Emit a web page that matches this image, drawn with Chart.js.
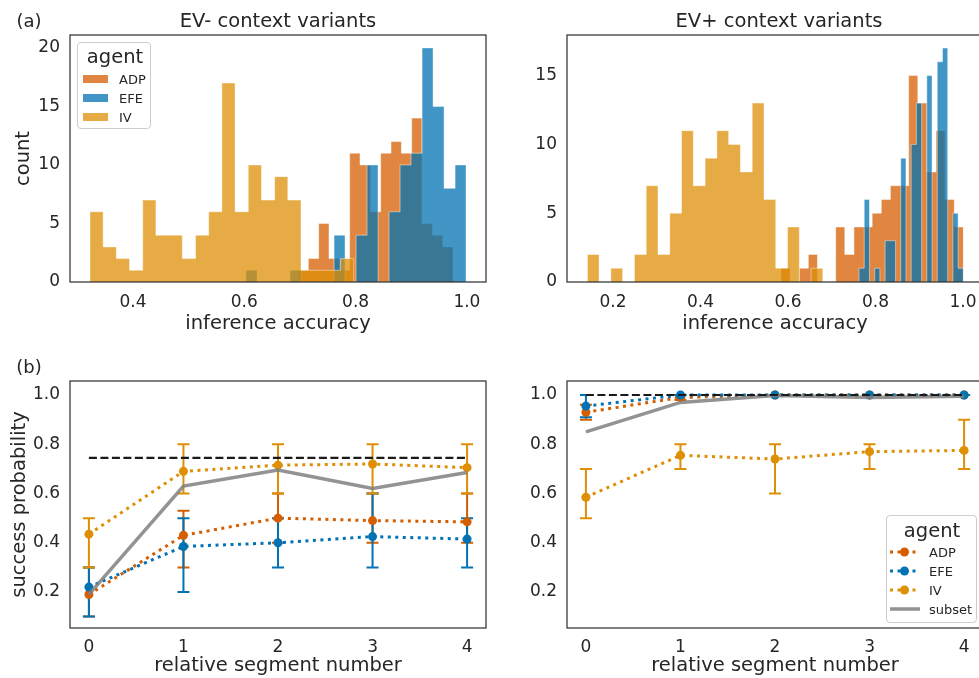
<!DOCTYPE html>
<html><head><meta charset="utf-8">
<script src="https://cdn.jsdelivr.net/npm/chart.js@4.4.1/dist/chart.umd.min.js"></script>
<style>
html,body{margin:0;padding:0;background:#fff;overflow:hidden;width:979px;height:678px;}
body{position:relative;font-family:"DejaVu Sans",sans-serif;color:#262626;}
canvas{position:absolute;}
.t{position:absolute;white-space:nowrap;line-height:1;transform:translate(-50%,-50%);}
.lg{position:absolute;border:1px solid #cccccc;border-radius:4px;background:rgba(255,255,255,0.8);box-sizing:border-box;}
.row{position:absolute;font-size:13px;line-height:1;white-space:nowrap;}
.sw{position:absolute;}
</style></head>
<body>
<canvas id="cA" width="500" height="345" style="left:0;top:0"></canvas>
<canvas id="cB" width="490" height="345" style="left:500px;top:0"></canvas>
<canvas id="cC" width="500" height="333" style="left:0;top:345px"></canvas>
<canvas id="cD" width="490" height="333" style="left:500px;top:345px"></canvas>

<div class="t" style="left:29px;top:21px;font-size:18px">(a)</div>
<div class="t" style="left:29px;top:367px;font-size:18px">(b)</div>
<div class="t" style="left:278px;top:21px;font-size:19.5px">EV- context variants</div>
<div class="t" style="left:779px;top:21px;font-size:19.5px">EV+ context variants</div>

<div class="lg" style="left:77px;top:42px;width:74px;height:87px">
  <div class="t" style="left:37px;top:14px;font-size:19.5px">agent</div>
  <div class="sw" style="left:5px;top:32px;width:25px;height:8px;background:rgba(213,94,0,0.75)"></div>
  <div class="row" style="left:41px;top:30px">ADP</div>
  <div class="sw" style="left:5px;top:51px;width:25px;height:8px;background:rgba(1,115,178,0.75)"></div>
  <div class="row" style="left:41px;top:49px">EFE</div>
  <div class="sw" style="left:5px;top:70px;width:25px;height:8px;background:rgba(222,143,5,0.75)"></div>
  <div class="row" style="left:41px;top:68px">IV</div>
</div>

<div class="lg" style="left:886px;top:515px;width:91px;height:108px">
  <div class="t" style="left:45px;top:15px;font-size:19.5px">agent</div>
  <svg class="sw" style="left:3px;top:31px" width="30" height="10"><line x1="0" y1="5" x2="30" y2="5" stroke="#d55e00" stroke-width="3" stroke-dasharray="3 4.5"/><circle cx="14.5" cy="5" r="4.5" fill="#d55e00"/></svg>
  <div class="row" style="left:42px;top:30px">ADP</div>
  <svg class="sw" style="left:3px;top:50px" width="30" height="10"><line x1="0" y1="5" x2="30" y2="5" stroke="#0173b2" stroke-width="3" stroke-dasharray="3 4.5"/><circle cx="14.5" cy="5" r="4.5" fill="#0173b2"/></svg>
  <div class="row" style="left:42px;top:49px">EFE</div>
  <svg class="sw" style="left:3px;top:69px" width="30" height="10"><line x1="0" y1="5" x2="30" y2="5" stroke="#de8f05" stroke-width="3" stroke-dasharray="3 4.5"/><circle cx="14.5" cy="5" r="4.5" fill="#de8f05"/></svg>
  <div class="row" style="left:42px;top:68px">IV</div>
  <svg class="sw" style="left:3px;top:88px" width="30" height="10"><line x1="0" y1="5" x2="30" y2="5" stroke="rgba(128,128,128,0.85)" stroke-width="3.5"/></svg>
  <div class="row" style="left:42px;top:87px">subset</div>
</div>

<script>
// ---------- DATA ----------
// (a) histograms: bin start, bin width, counts per bin
const evMinusADPStart = 0.6965, evMinusADPWidth = 0.01857;
const evMinusADPCounts = [1,2,5,2,1,11,10,6,11,12,11,14,5,4,3];
const evMinusEFEStart = 0.6031, evMinusEFEWidth = 0.01977;
const evMinusEFECounts = [1,0,0,0,1,0,0,0,4,0,4,10,0,6,10,11,20,15,8,10];
const evMinusIVStart = 0.3227, evMinusIVWidth = 0.0237;
const evMinusIVCounts = [6,3,2,1,7,4,4,2,4,6,17,6,10,7,9,7,1,1,1,2];

const evPlusADPStart = 0.5839, evPlusADPWidth = 0.02085;
const evPlusADPCounts = [1,0,1,2,0,0,4,2,4,4,5,6,7,7,15,13,8,11,6,4];
const evPlusEFEStart = 0.7623, evPlusEFEWidth = 0.011924;
const evPlusEFECounts = [1,6,0,1,0,3,3,0,9,0,10,13,0,15,0,16,17,0,5,1];
const evPlusIVStart = 0.1413, evPlusIVWidth = 0.02692;
const evPlusIVCounts = [2,0,1,0,2,7,2,5,11,7,9,11,10,8,13,6,1,4,0,1];

const histTicksLeft = [0.4, 0.6, 0.8, 1.0];
const histTicksRight = [0.2, 0.4, 0.6, 0.8, 1.0];
const countTicksLeft = [0, 5, 10, 15, 20];
const countTicksRight = [0, 5, 10, 15];

// (b) success probability per relative segment
const segments = [0, 1, 2, 3, 4];
const probTicks = [0.2, 0.4, 0.6, 0.8, 1.0];

const evMinusADPMean = [0.19, 0.43, 0.50, 0.49, 0.485];
const evMinusADPLo   = [0.10, 0.30, 0.40, 0.40, 0.40];
const evMinusADPHi   = [0.30, 0.53, 0.60, 0.60, 0.60];
const evMinusEFEMean = [0.22, 0.385, 0.40, 0.425, 0.415];
const evMinusEFELo   = [0.10, 0.20, 0.30, 0.30, 0.30];
const evMinusEFEHi   = [0.30, 0.50, 0.50, 0.60, 0.50];
const evMinusIVMean  = [0.435, 0.69, 0.715, 0.72, 0.705];
const evMinusIVLo    = [0.30, 0.60, 0.60, 0.60, 0.60];
const evMinusIVHi    = [0.50, 0.80, 0.80, 0.80, 0.80];
const evMinusSubset  = [0.19, 0.63, 0.695, 0.62, 0.685];
const evMinusRef = 0.745;

const evPlusADPMean = [0.93, 0.99, 1.0, 1.0, 1.0];
const evPlusADPLo   = [0.90, 0.98, 1.0, 1.0, 1.0];
const evPlusADPHi   = [0.96, 1.0, 1.0, 1.0, 1.0];
const evPlusEFEMean = [0.955, 1.0, 1.0, 1.0, 1.0];
const evPlusEFELo   = [0.91, 1.0, 1.0, 1.0, 1.0];
const evPlusEFEHi   = [1.0, 1.0, 1.0, 1.0, 1.0];
const evPlusIVMean  = [0.585, 0.755, 0.74, 0.77, 0.775];
const evPlusIVLo    = [0.50, 0.70, 0.60, 0.70, 0.70];
const evPlusIVHi    = [0.70, 0.80, 0.80, 0.80, 0.90];
const evPlusSubset  = [0.85, 0.97, 0.998, 0.99, 0.995];
const evPlusRef = 1.0;

// ---------- STYLE ----------
const C_ADP = '#d55e00', C_EFE = '#0173b2', C_IV = '#de8f05';
const A_ADP = 'rgba(213,94,0,0.75)', A_EFE = 'rgba(1,115,178,0.75)', A_IV = 'rgba(222,143,5,0.75)';
const TXT = '#262626';
Chart.defaults.font.family = "'DejaVu Sans', sans-serif";
Chart.defaults.color = TXT;
Chart.defaults.animation = false;

function histPoints(start, width, counts) {
  const pts = [{x: start, y: 0}];
  counts.forEach((c, i) => pts.push({x: start + i * width, y: c}));
  pts.push({x: start + counts.length * width, y: 0});
  return pts;
}
function histDS(label, start, width, counts, color, order) {
  return {label, data: histPoints(start, width, counts), stepped: 'before', fill: 'origin',
    backgroundColor: color, borderColor: 'rgba(255,255,255,0.55)', borderWidth: 0.8,
    pointRadius: 0, pointHoverRadius: 0, order};
}
function agentDS(label, xs, mean, lo, hi, color, order) {
  return {label, data: xs.map((x, i) => ({x, y: mean[i]})), errLo: lo, errHi: hi,
    borderColor: color, backgroundColor: color, borderWidth: 3, borderDash: [3, 4.5],
    borderCapStyle: 'butt', pointRadius: 4.5, pointBackgroundColor: color, pointBorderWidth: 0,
    pointHoverRadius: 0, order};
}

const framePlugin = {
  id: 'frame',
  afterDraw(chart) {
    const {ctx, chartArea: a} = chart;
    ctx.save(); ctx.strokeStyle = '#333333'; ctx.lineWidth = 1.25;
    ctx.strokeRect(a.left, a.top, a.right - a.left, a.bottom - a.top); ctx.restore();
  }
};
const errPlugin = {
  id: 'errbars',
  beforeDatasetsDraw(chart) {
    const {ctx} = chart, xs = chart.scales.x, ys = chart.scales.y;
    chart.data.datasets.slice().reverse().forEach(ds => {
      if (!ds.errLo) return;
      ctx.save(); ctx.strokeStyle = ds.borderColor; ctx.lineWidth = 2; ctx.setLineDash([]);
      ds.data.forEach((p, i) => {
        const x = xs.getPixelForValue(p.x), y1 = ys.getPixelForValue(ds.errLo[i]), y2 = ys.getPixelForValue(ds.errHi[i]);
        ctx.beginPath(); ctx.moveTo(x, y1); ctx.lineTo(x, y2);
        ctx.moveTo(x - 6, y1); ctx.lineTo(x + 6, y1); ctx.moveTo(x - 6, y2); ctx.lineTo(x + 6, y2); ctx.stroke();
      });
      ctx.restore();
    });
  }
};

function xScale(min, max, ticks, fmt, title, h, tpad, titlePadB) {
  return {type: 'linear', min, max,
    grid: {display: false, drawTicks: false}, border: {display: false},
    afterBuildTicks: s => { s.ticks = ticks.map(v => ({value: v})); },
    ticks: {font: {size: 17}, color: TXT, padding: tpad, maxRotation: 0, autoSkip: false, callback: fmt},
    title: {display: true, text: title, font: {size: 19.5}, color: TXT, padding: {top: 0, bottom: titlePadB}},
    afterFit: s => { s.height = h; }};
}
function yScale(min, max, ticks, fmt, title, w, titlePadT) {
  return {type: 'linear', min, max,
    grid: {display: false, drawTicks: false}, border: {display: false},
    afterBuildTicks: s => { s.ticks = ticks.map(v => ({value: v})); },
    ticks: {font: {size: 17}, color: TXT, padding: 10, autoSkip: false, callback: fmt},
    title: {display: !!title, text: title || '', font: {size: 19.5}, color: TXT, padding: {top: titlePadT || 0, bottom: 0}},
    afterFit: s => { s.width = w; }};
}
const f1 = v => v.toFixed(1), f0 = v => String(v);
const common = {responsive: false, animation: false, events: [],
  plugins: {legend: {display: false}, tooltip: {enabled: false}, title: {display: false}}};

// (a) left
new Chart(document.getElementById('cA'), {
  type: 'line',
  data: {datasets: [
    histDS('IV', evMinusIVStart, evMinusIVWidth, evMinusIVCounts, A_IV, 1),
    histDS('EFE', evMinusEFEStart, evMinusEFEWidth, evMinusEFECounts, A_EFE, 2),
    histDS('ADP', evMinusADPStart, evMinusADPWidth, evMinusADPCounts, A_ADP, 3)]},
  options: {...common, layout: {padding: {left: 0, right: 14, top: 35, bottom: 0}},
    scales: {x: xScale(0.2868, 1.0343, histTicksLeft, f1, 'inference accuracy', 63, 10, 9),
             y: yScale(0, 21.1, countTicksLeft, f0, 'count', 70, 12)}},
  plugins: [framePlugin]
});
// (a) right
new Chart(document.getElementById('cB'), {
  type: 'line',
  data: {datasets: [
    histDS('IV', evPlusIVStart, evPlusIVWidth, evPlusIVCounts, A_IV, 1),
    histDS('EFE', evPlusEFEStart, evPlusEFEWidth, evPlusEFECounts, A_EFE, 2),
    histDS('ADP', evPlusADPStart, evPlusADPWidth, evPlusADPCounts, A_ADP, 3)]},
  options: {...common, layout: {padding: {left: 0, right: 7, top: 35, bottom: 0}},
    scales: {x: xScale(0.0949, 1.0457, histTicksRight, f1, 'inference accuracy', 63, 10, 9),
             y: yScale(0, 17.95, countTicksRight, f0, null, 67)}},
  plugins: [framePlugin]
});

function lineDatasets(adp, adpLo, adpHi, efe, efeLo, efeHi, iv, ivLo, ivHi, subset, ref) {
  return [
    {label: 'ref', data: [{x: 0, y: ref}, {x: 4, y: ref}], borderColor: '#1a1a1a', borderWidth: 2.2,
      borderDash: [8, 3.5], pointRadius: 0, order: 0},
    {label: 'subset', data: segments.map((x, i) => ({x, y: subset[i]})), borderColor: 'rgba(128,128,128,0.85)',
      borderWidth: 3.5, pointRadius: 0, order: 1},
    agentDS('IV', segments, iv, ivLo, ivHi, C_IV, 2),
    agentDS('EFE', segments, efe, efeLo, efeHi, C_EFE, 3),
    agentDS('ADP', segments, adp, adpLo, adpHi, C_ADP, 4)];
}
// (b) left
new Chart(document.getElementById('cC'), {
  type: 'line',
  data: {datasets: lineDatasets(evMinusADPMean, evMinusADPLo, evMinusADPHi, evMinusEFEMean, evMinusEFELo, evMinusEFEHi,
    evMinusIVMean, evMinusIVLo, evMinusIVHi, evMinusSubset, evMinusRef)},
  options: {...common, layout: {padding: {left: 0, right: 14, top: 36, bottom: 0}},
    scales: {x: xScale(-0.2, 4.2, segments, f0, 'relative segment number', 50, 9, 0),
             y: yScale(0.0538, 1.0569, probTicks, f1, 'success probability', 70, 8)}},
  plugins: [errPlugin, framePlugin]
});
// (b) right
new Chart(document.getElementById('cD'), {
  type: 'line',
  data: {datasets: lineDatasets(evPlusADPMean, evPlusADPLo, evPlusADPHi, evPlusEFEMean, evPlusEFELo, evPlusEFEHi,
    evPlusIVMean, evPlusIVLo, evPlusIVHi, evPlusSubset, evPlusRef)},
  options: {...common, layout: {padding: {left: 0, right: 7, top: 36, bottom: 0}},
    scales: {x: xScale(-0.2, 4.2, segments, f0, 'relative segment number', 50, 9, 0),
             y: yScale(0.0538, 1.0569, probTicks, f1, null, 67)}},
  plugins: [errPlugin, framePlugin]
});
</script>
</body></html>
